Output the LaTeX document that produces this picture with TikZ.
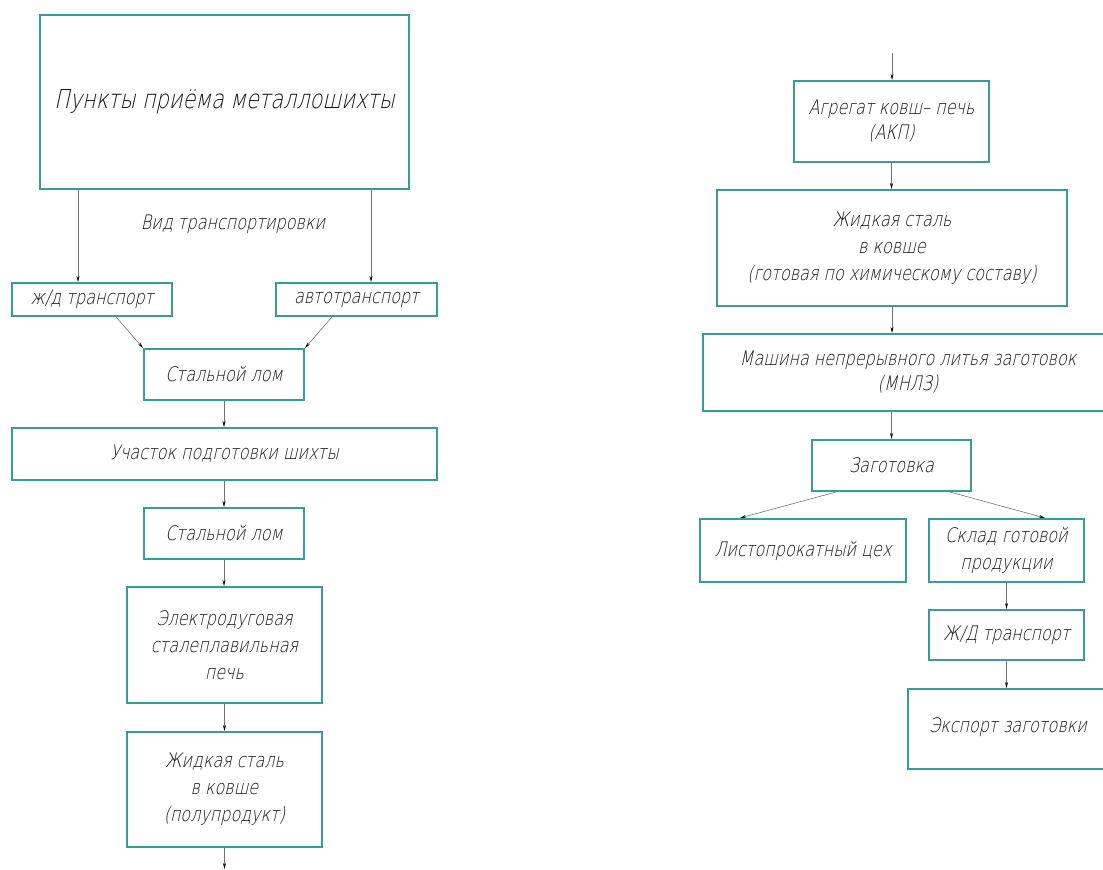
\documentclass[tikz,border=0pt]{standalone}
\usepackage{fontspec}
\newfontfamily\gost{DejaVu Sans ExtraLight}[FakeSlant=0.22,FakeStretch=0.8]
\usetikzlibrary{arrows.meta}
\definecolor{boxteal}{RGB}{58,156,154}
\definecolor{txt}{RGB}{20,20,20}
\tikzset{
  box/.style={draw=boxteal, line width=2pt, inner sep=0pt, align=center, text=txt,
    font=\gost\fontsize{20}{27}\selectfont},
  arr/.style={draw=black!55, line width=0.6pt, -{Stealth[length=6pt,width=3pt,black]}},
  lbl/.style={text=txt, font=\gost\fontsize{20}{27}\selectfont}
}
\begin{document}
\begin{tikzpicture}[x=1pt,y=-1pt]
\useasboundingbox (0,0) rectangle (1103,870);
\clip (0,0) rectangle (1103,870);
% left column
\node[box, minimum width=369, minimum height=174, font=\gost\fontsize{26}{32}\selectfont] (b1) at (224.5,102) {Пункты приёма металлошихты};
\node[lbl] (vid) at (233,224) {Вид транспортировки};
\node[box, minimum width=160, minimum height=33] (jd) at (92,299.5) {ж/д транспорт};
\node[box, minimum width=161, minimum height=33] (avto) at (356.5,299.5) {автотранспорт};
\node[box, minimum width=160, minimum height=51] (sl1) at (224,374.5) {Стальной лом};
\node[box, minimum width=425, minimum height=52] (uch) at (224.5,454) {Участок подготовки шихты};
\node[box, minimum width=160, minimum height=51] (sl2) at (224,533.5) {Стальной лом};
\node[box, minimum width=195, minimum height=116] (el) at (224.5,645) {Электродуговая\\сталеплавильная\\печь};
\node[box, minimum width=195, minimum height=115] (zh) at (224.5,789.5) {Жидкая сталь\\в ковше\\(полупродукт)};
\coordinate (lend) at (224.5,869);
% right column
\coordinate (rstart) at (892,53);
\node[box, minimum width=195, minimum height=81, font=\gost\fontsize{20}{25}\selectfont] (agr) at (891.5,121.5) {Агрегат ковш– печь\\(АКП)};
\node[box, minimum width=350, minimum height=116] (zh2) at (892,248) {Жидкая сталь\\в ковше\\(готовая по химическому составу)};
\node[box, minimum width=410, minimum height=77, font=\gost\fontsize{20}{25}\selectfont] (mnlz) at (908,372.5) {Машина непрерывного литья заготовок\\(МНЛЗ)};
\node[box, minimum width=159, minimum height=51] (zag) at (891.5,465.5) {Заготовка};
\node[box, minimum width=206, minimum height=63] (lp) at (803,550.5) {Листопрокатный цех};
\node[box, minimum width=155, minimum height=63] (sklad) at (1006.5,550.5) {Склад готовой\\продукции};
\node[box, minimum width=155, minimum height=50] (zd) at (1006.5,635) {Ж/Д транспорт};
\node[box, minimum width=200, minimum height=80] (exp) at (1008,729) {\raisebox{7pt}{Экспорт заготовки}};
% connectors left
\draw[arr] (b1.south -| 78,0) -- (jd.north -| 78,0);
\draw[arr] (b1.south -| 371,0) -- (avto.north -| 371,0);
\draw[arr] (jd.south -| 116,0) -- (sl1.north west);
\draw[arr] (avto.south -| 332,0) -- (sl1.north east);
\draw[arr] (sl1.south) -- (uch.north -| sl1.south);
\draw[arr] (uch.south -| sl2.north) -- (sl2.north);
\draw[arr] (sl2.south) -- (el.north -| sl2.south);
\draw[arr] (el.south) -- (zh.north);
\draw[arr] (zh.south) -- (lend);
% connectors right
\draw[arr] (rstart) -- (agr.north -| rstart);
\draw[arr] (agr.south) -- (zh2.north -| agr.south);
\draw[arr] (zh2.south) -- (mnlz.north -| zh2.south);
\draw[arr] (mnlz.south -| zag.north) -- (zag.north);
\draw[arr] (zag.south -| 836,0) -- (lp.north -| 740,0);
\draw[arr] (zag.south -| 950,0) -- (sklad.north -| 1045,0);
\draw[arr] (sklad.south) -- (zd.north);
\draw[arr] (zd.south) -- (exp.north -| zd.south);
\end{tikzpicture}
\end{document}
